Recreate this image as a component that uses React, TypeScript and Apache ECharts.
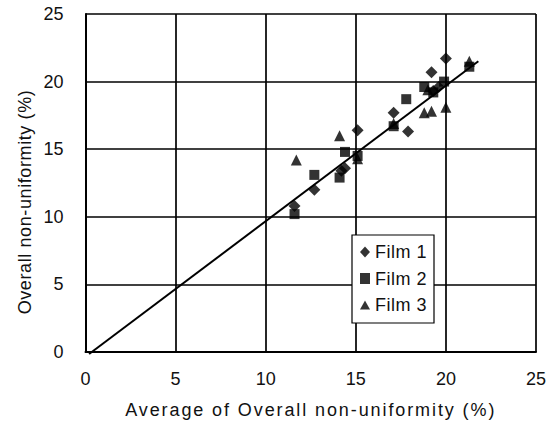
import React, { useEffect, useRef } from "react";
import * as echarts from "echarts";

const film1: number[][] = [
  [11.6, 10.8], [12.7, 12.0], [14.4, 13.6], [14.2, 13.4], [15.1, 16.4],
  [17.1, 17.7], [17.9, 16.3], [19.2, 20.7], [20.0, 21.7], [19.3, 19.3], [19.6, 19.6],
];
const film2: number[][] = [
  [11.6, 10.2], [12.7, 13.1], [14.1, 12.9], [14.4, 14.8], [15.1, 14.5],
  [17.1, 16.7], [17.8, 18.7], [18.8, 19.6], [19.3, 19.2], [19.9, 20.0], [21.3, 21.1],
];
const film3: number[][] = [
  [11.7, 14.2], [14.1, 16.0], [15.1, 14.3], [17.1, 16.9], [18.8, 17.7],
  [19.2, 17.8], [20.0, 18.1], [21.3, 21.5], [19.0, 19.4],
];
const fitLine: number[][] = [
  [0.2, -0.15], [21.8, 21.5],
];
const seriesNames = ["Film 1", "Film 2", "Film 3"];
const xTitle = "Average of Overall non-uniformity (%)";
const yTitle = "Overall non-uniformity (%)";
const axisMin = 0;
const axisMax = 25;
const axisInterval = 5;

const FONT = "Liberation Sans";

export default function App() {
  const ref = useRef<HTMLDivElement>(null);
  useEffect(() => {
    if (!ref.current) return;
    const chart = echarts.init(ref.current, undefined, { renderer: "svg" });
    const triangle = "path://M0,-10 L10,8 L-10,8 Z";
    chart.setOption({
      animation: false,
      backgroundColor: "#ffffff",
      grid: { left: 85.5, top: 14, width: 450.5, height: 339 },
      graphic: [
        {
          type: "text",
          x: 25,
          y: 202,
          rotation: Math.PI / 2,
          style: {
            text: yTitle,
            fill: "#111",
            fontSize: 18,
            fontFamily: FONT,
            align: "center",
            verticalAlign: "middle",
          },
        },
      ],
      xAxis: {
        type: "value",
        min: axisMin,
        max: axisMax,
        interval: axisInterval,
        name: xTitle,
        nameLocation: "middle",
        nameGap: 49,
        nameTextStyle: { color: "#111", fontSize: 18, fontFamily: FONT },
        axisLine: { show: true, onZero: false, lineStyle: { color: "#000", width: 2 } },
        axisTick: { show: false },
        axisLabel: { color: "#111", fontSize: 18, fontFamily: FONT, margin: 18 },
        splitLine: { show: true, lineStyle: { color: "#000", width: 1.7 } },
      },
      yAxis: {
        type: "value",
        min: axisMin,
        max: axisMax,
        interval: axisInterval,
        axisLine: { show: true, onZero: false, lineStyle: { color: "#000", width: 2 } },
        axisTick: { show: false },
        axisLabel: { color: "#111", fontSize: 18, fontFamily: FONT, margin: 22 },
        splitLine: { show: true, lineStyle: { color: "#000", width: 1.7 } },
      },
      legend: {
        show: true,
        orient: "vertical",
        left: 352,
        top: 235,
        width: 85,
        backgroundColor: "#fff",
        borderColor: "#000",
        borderWidth: 1.2,
        padding: [8, 10, 9, 8],
        itemGap: 8.5,
        itemWidth: 10,
        itemHeight: 11,
        textStyle: { color: "#111", fontSize: 18, fontFamily: FONT },
        data: seriesNames,
      },
      series: [
        {
          name: "fit",
          type: "line",
          data: fitLine,
          clip: false,
          symbol: "none",
          lineStyle: { color: "#000", width: 2 },
          z: 3,
        },
        {
          name: seriesNames[0],
          type: "scatter",
          data: film1,
          symbol: "diamond",
          symbolSize: 12,
          itemStyle: { color: "#000" },
          z: 4,
        },
        {
          name: seriesNames[1],
          type: "scatter",
          data: film2,
          symbol: "rect",
          symbolSize: 10,
          itemStyle: { color: "#000" },
          z: 4,
        },
        {
          name: seriesNames[2],
          type: "scatter",
          data: film3,
          symbol: triangle,
          symbolSize: 11,
          itemStyle: { color: "#000" },
          z: 4,
        },
      ],
    });
    ref.current.querySelectorAll("text").forEach((t) => {
      const s = t.textContent || "";
      const el = t as SVGTextElement;
      if (s === xTitle) el.style.letterSpacing = "1.9px";
      else if (s === yTitle) el.style.letterSpacing = "0.6px";
      else if (seriesNames.includes(s)) el.style.letterSpacing = "0.5px";
    });
    return () => chart.dispose();
  }, []);
  return (
    <div
      ref={ref}
      style={{ position: "fixed", left: 0, top: 0, width: 549, height: 424 }}
    />
  );
}
